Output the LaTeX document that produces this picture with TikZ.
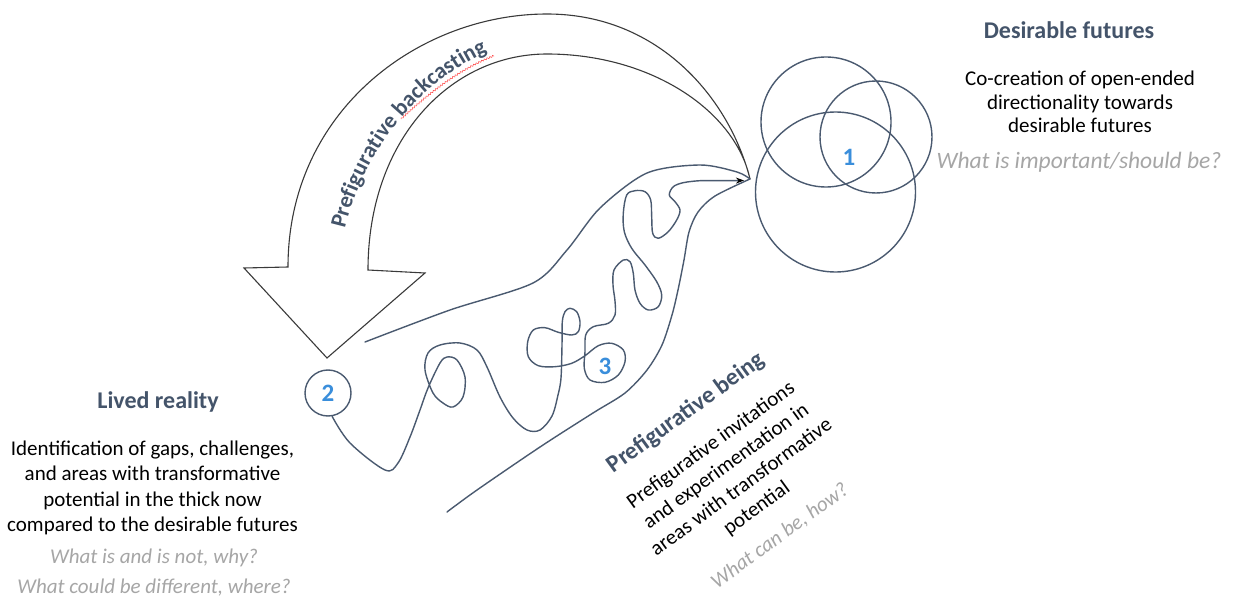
\documentclass[tikz,border=0pt]{standalone}
\usepackage{fontspec}
\setmainfont{Carlito}
\usetikzlibrary{arrows.meta,decorations.text,decorations.pathmorphing}
\definecolor{hd}{HTML}{44546A}
\definecolor{ln}{HTML}{4A5A70}
\definecolor{num}{HTML}{3A8EDB}
\definecolor{qs}{HTML}{A6A6A6}
\definecolor{ar}{HTML}{3A3A3A}

\begin{document}
\begin{tikzpicture}[x=1pt,y=-1pt,
  head/.style={font=\fontsize{24}{28}\selectfont\bfseries, text=hd, inner sep=0pt},
  body/.style={font=\fontsize{21}{23.5}\selectfont, text=black, align=center, inner sep=0pt},
  quest/.style={font=\fontsize{21}{25}\selectfont\itshape, text=qs, inner sep=0pt},
  digit/.style={font=\fontsize{25}{25}\selectfont\bfseries, text=num},
  ring/.style={draw=ln, line width=1.4pt, circle, inner sep=0pt},
  wire/.style={draw=ln, line width=1.4pt, line join=round, line cap=round},
  bigarrow/.style={draw=ar, line width=1.1pt, line join=miter, fill=white},
]
\useasboundingbox[fill=white] (0,0) rectangle (1235,599);

% backcasting arrow
\coordinate (tip) at (750,179);
\draw[bigarrow] (288,267) .. controls (288,110) and (420,14) .. (547,14)
  .. controls (660,14) and (730,100) .. (tip)
  .. controls (735,110) and (650,54) .. (547,54)
  .. controls (450,54) and (368,140) .. (368,270)
  -- (425,273) -- (327,358) -- (244,268) -- cycle;
\path[decorate, decoration={text along path, text align=left,
  text={|\fontsize{22.5}{22.5}\selectfont\bfseries\color{hd}|Prefigurative backcasting}}]
  (345,229) .. controls (362,155) and (420,72) .. (512,42);
\draw[red!75!white, line width=0.5pt, decorate,
  decoration={snake, amplitude=0.8pt, segment length=3pt}]
  (401,119) .. controls (428,94) and (458,70) .. (494,56);

% desirable futures circles
\node[ring, minimum size=130pt] (fa) at (826,122) {};
\node[ring, minimum size=112pt] (fb) at (876,137) {};
\node[ring, minimum size=160pt] (fc) at (835.5,192) {};
\node[digit] (n1) at (849,157) {1};

% lived reality marker and prefigurative path
\node[ring, digit, minimum size=46pt] (c2) at (328,393) {2};
\node[digit] (n3) at (605,366) {3};

\draw[wire] plot[smooth] coordinates {(365,342) (450,310) (533,283) (567,250)
  (600,208) (647,173) (700,165) (737,172) (tip)};
\draw[wire] plot[smooth] coordinates {(tip) (715,196) (698,212) (689,232)
  (684,260) (678,290) (672,315) (662,345) (647,370) (625,393) (593,413)
  (540,447) (477,490) (447,512)};

\draw[wire, -{Stealth[length=8pt, width=6pt, color=black]}] plot[smooth, tension=0.55] coordinates {
  (c2.-80) (350,443) (385,470) (398,463) (410,437) (420,410) (428,388)
  (440,363) (447,357) (457,360) (465,377) (463,397) (453,407) (443,403)
  (433,393) (425,370) (428,353) (440,345) (460,343) (477,350) (487,367)
  (500,397) (513,418) (527,430) (540,430) (552,416) (558,395) (561,378)
  (562,345) (562.3,321.7) (565,311.7) (570,308.3) (576.7,311.7) (580,321.7)
  (578.3,331.7) (571.7,335) (558.3,332.3) (545,327.7) (533.3,330)
  (527.7,341.7) (528.3,356.7) (538.3,365.7) (555,366.7) (571.7,363.3)
  (585,355.7) (598.3,345.7) (611.7,343.3) (623.3,350) (625,361.7)
  (618.3,375) (605,382.3) (590,380) (584.3,368.3) (585,351.7) (585.7,335)
  (593.3,326.7) (608.3,323.3) (615,315) (615,301) (613,285) (614,270)
  (623.3,260) (630,261.7) (633.3,273.3) (635,290) (640,303.3) (648.3,310)
  (658.3,306.7) (661.7,295) (656.7,281.7) (645,265) (631.7,248.3)
  (624.3,231.7) (623.3,213.3) (626.7,195) (635,190.7) (645,191.7)
  (650.7,200) (651.7,216.7) (652.7,233.3) (658.3,238.3) (668.3,231.7)
  (676.7,220) (680,210) (675,201.7) (669.3,195) (673.3,186.7) (683.3,182.7)
  (700,180.7) (720,180.7) (744,180.5)};

% texts
\node[head] (hdf) at (1069,30) {Desirable futures};
\node[body] (bdf) at (1080,102) {Co-creation of open-ended\\directionality towards\\desirable futures};
\node[quest, font=\fontsize{23.5}{25}\selectfont\itshape] (qdf) at (1079,162) {What is important/should be?};

\node[head] (hlr) at (158,402) {Lived reality};
\node[body, font=\fontsize{21}{25.5}\selectfont] (blr) at (152.5,488) {Identification of gaps, challenges,\\and areas with transformative\\potential in the thick now\\compared to the desirable futures};
\node[quest] (q1) at (154,558) {What is and is not, why?};
\node[quest] (q2) at (154,588) {What could be different, where?};

\node[head, rotate=36] (hpb) at (686,413) {Prefigurative being};
\node[body, font=\fontsize{21}{26}\selectfont, rotate=36] (bpb) at (734,477) {Prefigurative invitations\\and experimentation in\\areas with transformative\\potential};
\node[quest, rotate=36] (qpb) at (780,536) {What can be, how?};
\end{tikzpicture}
\end{document}
